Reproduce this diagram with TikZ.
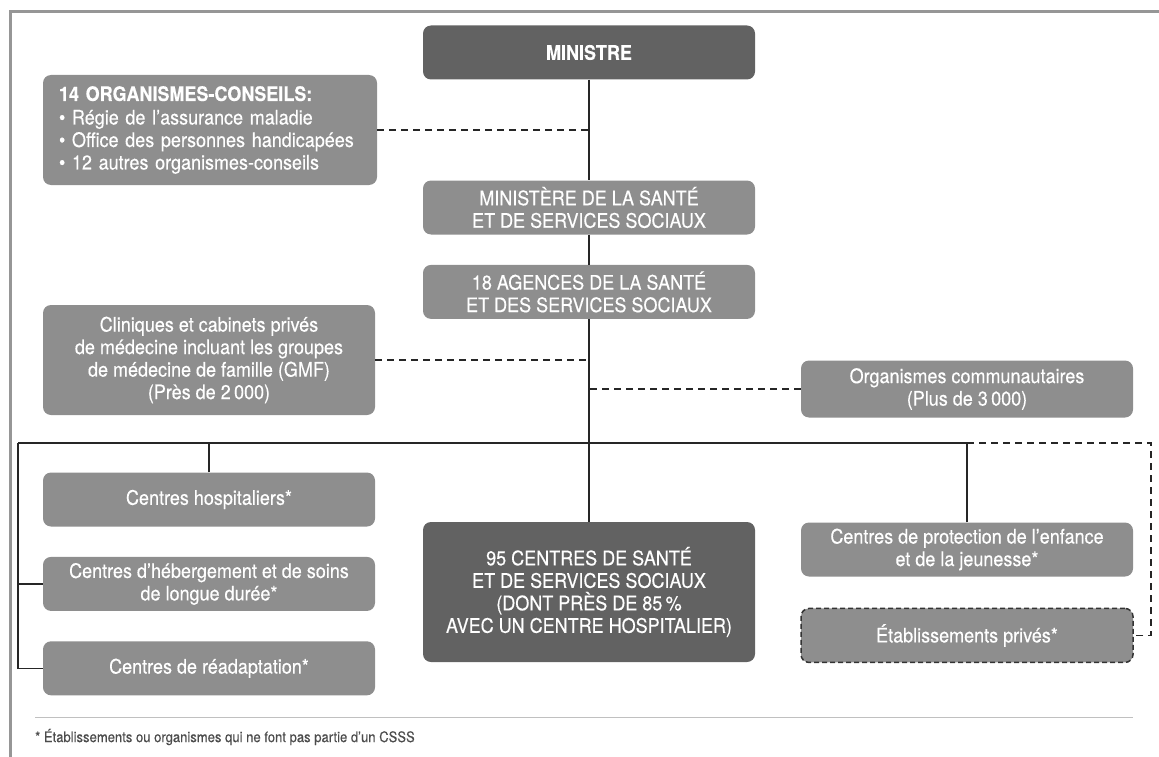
\documentclass[tikz,border=0pt]{standalone}
\usepackage{fontspec}
\setmainfont{TeX Gyre Heros}[FakeStretch=0.9, FakeBold=0.3]
\usepackage{tikz}
\usetikzlibrary{positioning}
\definecolor{darkfill}{RGB}{98,98,98}
\definecolor{midfill}{RGB}{142,142,142}
\definecolor{framegray}{RGB}{150,150,150}
\newcommand{\boxfont}{\fontsize{20}{22.5}\selectfont}
\newcommand{\footfont}{\fontsize{14.5}{16}\selectfont}
\tikzset{
  orgbox/.style={rounded corners=8pt, fill=midfill, text=white,
    minimum width=332pt, minimum height=54pt, inner sep=2pt,
    align=center, font=\boxfont},
  topbox/.style={orgbox, fill=darkfill},
  conn/.style={line width=1.2pt, black!85},
  dconn/.style={conn, dash pattern=on 7pt off 5pt},
}

\begin{document}
\begin{tikzpicture}[x=1pt, y=-1pt]
  \useasboundingbox (0,0) rectangle (1159,757);
  % cadre de la page
  \draw[framegray, line width=3pt] (1159,12) -- (10,12) -- (10,757);

  \node[topbox, font=\boxfont\bfseries] (ministre) at (589,52.5) {MINISTRE};
  \node[orgbox, minimum height=110pt, align=left, text width=302pt,
        inner xsep=16pt] (conseils) at (210,130)
    {\textbf{14 ORGANISMES-CONSEILS:}\\[1pt]
     \textbullet\ Régie de l'assurance maladie\\
     \textbullet\ Office des personnes handicapées\\
     \textbullet\ 12 autres organismes-conseils};
  \node[orgbox] (msss) at (589,207.5)
    {MINISTÈRE DE LA SANTÉ\\ET DE SERVICES SOCIAUX};
  \node[orgbox, below=30pt of msss] (agences)
    {18 AGENCES DE LA SANTÉ\\ET DES SERVICES SOCIAUX};
  \node[orgbox, minimum height=110pt] (cliniques) at (209,360)
    {Cliniques et cabinets privés\\de médecine incluant les groupes\\
     de médecine de famille (GMF)\\(Près de 2\,000)};
  \node[orgbox, minimum height=57pt] (communautaires) at (967,389)
    {Organismes communautaires\\(Plus de 3\,000)};

  % etablissements
  \node[orgbox] (hospitaliers) at (209,499.5) {Centres hospitaliers*};
  \node[orgbox, below=30pt of hospitaliers] (chsld)
    {Centres d'hébergement et de soins\\de longue durée*};
  \node[orgbox, below=30pt of chsld] (readaptation) {Centres de réadaptation*};
  \node[topbox, minimum height=140pt] (csss) at (589,592)
    {95 CENTRES DE SANTÉ\\ET DE SERVICES SOCIAUX\\(DONT PRÈS DE 85\,\%\\
     AVEC UN CENTRE HOSPITALIER)};
  \node[orgbox] (protection) at (967,549.5)
    {Centres de protection de l'enfance\\et de la jeunesse*};
  \node[orgbox, below=31pt of protection, draw=black!80, line width=1.5pt,
        dash pattern=on 5pt off 3pt] (prives) {Établissements privés*};

  % liens hierarchiques
  \draw[conn] (ministre) -- (msss);
  \draw[conn] (msss) -- (agences);
  \draw[conn] (agences) -- (csss);
  \draw[dconn] (conseils.east) -- (conseils.east -| ministre.south);
  \draw[dconn] (cliniques.east) -- (cliniques.east -| agences.south);
  \draw[dconn] (communautaires.west) -- (communautaires.west -| agences.south);

  \coordinate (busL) at (18,443);
  \coordinate (busR) at (1151,443);
  \draw[conn] (busL) -- (busL -| protection.north);
  \draw[conn] (hospitaliers.north) -- (hospitaliers.north |- busL);
  \draw[conn] (protection.north) -- (protection.north |- busL);
  \draw[conn] (busL) |- (readaptation.west);
  \draw[conn] (chsld.west -| busL) -- (chsld.west);
  \draw[dconn] (busL -| protection.north) -- (busR) |- (prives.east);

  % note
  \draw[framegray!60, line width=1pt] (35,717) -- (1133,717);
  \node[anchor=west, inner sep=0pt, text=black!70, font=\footfont] (note)
    at (35,737) {* Établissements ou organismes qui ne font pas partie d'un CSSS};
\end{tikzpicture}
\end{document}
